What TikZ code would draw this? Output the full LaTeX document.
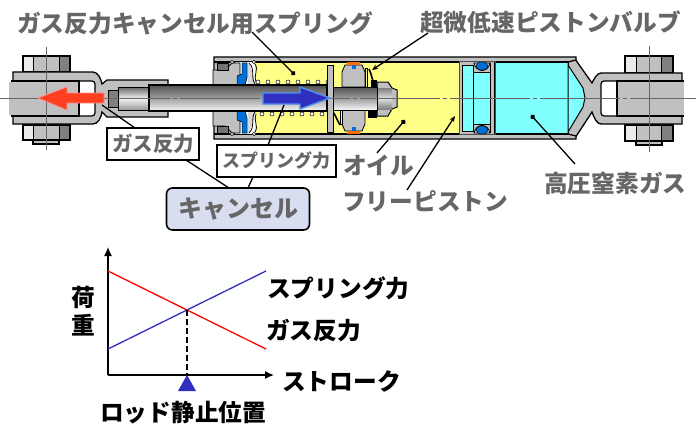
\documentclass[tikz,border=0pt]{standalone}
\usepackage{fontspec}
\setmainfont{Noto Sans CJK JP}
\usetikzlibrary{arrows.meta}
\definecolor{lbl}{HTML}{666666}
\definecolor{metal}{HTML}{C0C0C0}
\definecolor{oilc}{HTML}{FFFF88}
\definecolor{gasc}{HTML}{80FFFF}
\definecolor{sealb}{HTML}{0070D8}
\definecolor{bluear}{HTML}{3030C0}
\definecolor{bluerim}{HTML}{5090F0}
\definecolor{redar}{HTML}{FF4020}
\definecolor{cancelc}{HTML}{D8DEF0}
\tikzset{
 part/.style={draw=black,line width=1.3pt,fill=metal},
 thin part/.style={draw=black,line width=.8pt,fill=metal},
 lab/.style={inner sep=0pt,anchor=west,text=lbl,font=\fontsize{23.7}{24}\selectfont\bfseries},
 blk/.style={inner sep=0pt,anchor=west,text=black,font=\fontsize{23.7}{24}\selectfont\bfseries},
 tag/.style={draw=black,line width=1.4pt,fill=white,text=lbl,inner sep=0pt,font=\bfseries},
 lead/.style={draw=black,line width=1.3pt},
 dotend/.style={lead,{Circle[length=5pt]}-},
 tipend/.style={lead,{Stealth[length=6pt,width=5pt]}-},
 rodshade/.style={top color=black!68,bottom color=black!3,middle color=black!38},
 coil/.style={draw=black,line width=.5pt,fill=white},
 ring/.style={draw=black,line width=.5pt,fill=white},
}
\newcommand{\halfguide}{%
 \fill[white] (235,62) rectangle (255,85);
 \path[thin part] (213,70)--(225,70)--(232,63)--(240,63)--(240,85)--(213,85)--cycle;
 \fill[black!55,draw=black,line width=.5pt] (217,63) rectangle (228,70);
 \fill[sealb,draw=black,line width=.5pt] (242,63)--(247,63)--(247,78)--(245,85)--(237,85)--(237,76)--(242,74)--cycle;
 \fill[metal!60] (248,63) .. controls (254,70) and (251,76) .. (255,84)--(248,84)--cycle;
 \draw[line width=.8pt] (249,63) .. controls (256,70) and (250,76) .. (255,84);
 \fill[oilc] (255,62.7) rectangle (262,80);
 \draw[black,line width=.8pt] (255,64) .. controls (259,70) and (253,76) .. (256,82);
 \fill[ring] (232,62) circle (1.8);
 \fill[ring] (254,62) circle (1.8);
}
\begin{document}
\begin{tikzpicture}[x=1pt,y=-1pt]
\useasboundingbox (0,0) rectangle (696,436);
% ---- left clevis
\fill[metal,draw=black,line width=1.2pt] (23,56) rectangle (70,72);
\fill[black!8] (24,57) rectangle (33,71);
\fill[black!50] (59,57) rectangle (69,71);
\draw[line width=.6pt] (33,56)--(33,72) (59,56)--(59,72);
\fill[metal,draw=black,line width=1.2pt] (33,125) rectangle (59,144);
\fill[metal,draw=black,line width=1.2pt] (23,125) rectangle (70,140);
\fill[black!8] (24,126) rectangle (33,139);
\fill[black!50] (59,126) rectangle (69,139);
\draw[line width=.6pt] (33,125)--(33,140) (59,125)--(59,140);
\path[part] (13,72)--(93,72) .. controls (98,72) and (101,79) .. (102,84)--(107,80)--(168,80)--(168,117)--(107,117)--(102,112) .. controls (101,118) and (98,124) .. (93,124)--(13,124)--cycle;
\fill[white,draw=black,line width=1.2pt,rounded corners=3pt] (72,81) rectangle (95,116);
\path[draw=black,line width=1.2pt,fill=metal] (11,81)--(79,81)--(79,116)--(11,116);
\fill[metal] (9,82) rectangle (12,115);
\path[thin part,fill=black!50] (108,90) rectangle (118,107);
\path[draw=black,line width=.9pt,top color=black!60,bottom color=black!40,middle color=black!5] (118,87) rectangle (148,110);
% ---- right clevis
\fill[metal,draw=black,line width=1.2pt] (625,56) rectangle (673,73);
\fill[black!8] (626,57) rectangle (636,72);
\fill[black!50] (661,57) rectangle (672,72);
\draw[line width=.6pt] (636,56)--(636,73) (661,56)--(661,73);
\fill[metal,draw=black,line width=1.2pt] (636,125) rectangle (662,145);
\fill[metal,draw=black,line width=1.2pt] (625,125) rectangle (673,141);
\fill[black!8] (626,126) rectangle (636,140);
\fill[black!50] (661,126) rectangle (672,140);
\draw[line width=.6pt] (636,125)--(636,141) (661,125)--(661,141);
\path[part] (682,73)--(601,73) .. controls (597,73) and (594,79) .. (592,83)--(575,59)--(568,61)--(568,135)--(575,138)--(592,112) .. controls (594,118) and (597,124) .. (601,124)--(682,124)--cycle;
\fill[white,draw=black,line width=1.2pt,rounded corners=3pt] (601,81) rectangle (625,116);
\path[draw=black,line width=1.2pt,fill=metal] (684,81)--(617,81)--(617,116)--(684,116);
% ---- cylinder
\fill[metal,draw=black,line width=1.3pt] (214,57)--(576,57)--(576,60)--(568,62)--(568,134)--(576,136)--(576,139)--(214,139)--cycle;
\fill[oilc] (240,62) rectangle (459,134);
\fill[gasc] (494,62) rectangle (568,134);
\fill[gasc] (568,65)--(583,88)--(585,98)--(583,107)--(568,132)--cycle;
\draw[black,line width=1.2pt] (214,62)--(568,62) (214,134)--(568,134);
\draw[black,line width=1pt] (568,62)--(568,134) (568,65)--(583,88)--(585,98)--(583,107)--(568,132);
% free piston
\path[draw=black!70,line width=1pt,fill=metal] (459,62) rectangle (495,134);
\fill[gasc,draw=black,line width=.8pt] (462,65) rectangle (473,131);
\fill[gasc,draw=black,line width=.8pt] (473,72) rectangle (490,124);
\draw[line width=1pt] (490,63)--(490,133) (494,62)--(494,134);
\fill[metal,draw=black,line width=.8pt] (474,63) .. controls (476,73) and (488,73) .. (490,63)--cycle;
\fill[metal,draw=black,line width=.8pt] (474,133) .. controls (476,123) and (488,123) .. (490,133)--cycle;
\fill[sealb,draw=black,line width=.4pt] (482,66) ellipse (6 and 4);
\fill[sealb,draw=black,line width=.4pt] (482,130) ellipse (6 and 4);
% rod guide
\halfguide
\begin{scope}[shift={(0,196)},yscale=-1]\halfguide\end{scope}
% spring coils
\foreach \x in {258,268,...,328} \fill[coil] (\x,82) circle (2);
\foreach \x in {262,272,...,322} \fill[coil] (\x,114) circle (2);
% piston, upper half
\path[thin part] (342,72)--(345,65)--(362,65)--(365,72)--(365,87)--(342,87)--cycle;
\fill[oilc,draw=black,line width=.5pt] (365,68) rectangle (367,87);
\draw[black,line width=1.6pt] (369,69) .. controls (372,75) and (372,80) .. (375,87);
\fill[black] (371,80) rectangle (377,87);
\fill[orange!85!red] (347,62.5) rectangle (360,65);
\fill[sealb] (352,65) rectangle (356,69.5);
% piston, lower half
\path[thin part] (342,109)--(365,109)--(365,124)--(362,131)--(345,131)--(342,124)--cycle;
\fill[oilc,draw=black,line width=.5pt] (340,109) rectangle (342,124);
\fill[black] (368,109) rectangle (377,118);
\draw[black,line width=1.6pt] (333,112) .. controls (336,116) and (337,120) .. (340,125);
\fill[orange!85!red] (347,131) rectangle (360,133.5);
\fill[sealb] (352,126.5) rectangle (356,131);
% rod and nut
\path[draw=black,line width=1.2pt,rodshade] (149,85) rectangle (327,111);
\path[draw=black,line width=1pt,fill=metal] (377,82)--(388,82)--(392,88)--(397,90)--(397,107)--(392,109)--(388,116)--(377,116)--cycle;
\path[top color=black!50,bottom color=black!50,middle color=black!12] (378,88) rectangle (392,109);
\path[draw=black,line width=1pt,rodshade] (327,87) rectangle (377,110);
\path[thin part] (327,65) rectangle (333,132);
% center lines
\draw[black!60,line width=.5pt,dash pattern=on 80pt off 3pt on 4pt off 3pt] (0,98)--(696,98);
\draw[black!60,line width=.5pt] (46,47)--(46,150) (649,46)--(649,152);
% force arrows
\path[fill=redar,draw=red!45,line width=.7pt] (104,93)--(67,93)--(67,87)--(38,98)--(67,110)--(67,103)--(104,103)--cycle;
\path[fill=bluear,draw=bluerim,line width=1.4pt] (263,93)--(300,93)--(300,87)--(330,98)--(300,109)--(300,104)--(263,104)--cycle;
% labels
\node[lab] (spr) at (17,23) {ガス反力キャンセル用スプリング};
\node[lab] (valve) at (420,22) {超微低速ピストンバルブ};
\node[lab] (oil) at (343,165) {オイル};
\node[lab] (free) at (342,201) {フリーピストン};
\node[lab] (gas) at (544,183) {高圧窒素ガス};
\node[tag,minimum width=92pt,minimum height=32pt,font=\fontsize{20.5}{21}\selectfont\bfseries] (tgas) at (153,144) {ガス反力};
\node[tag,minimum width=119pt,minimum height=32pt,font=\fontsize{18}{19}\selectfont\bfseries] (tspr) at (276.5,161) {スプリング力};
\node[tag,line width=1.6pt,fill=cancelc,rounded corners=6pt,minimum width=143pt,minimum height=42pt,font=\fontsize{24}{25}\selectfont\bfseries] (cancel) at (238,209) {キャンセル};
% leader ends
\coordinate (a1) at (295,75); \coordinate (a1s) at (252,32);
\coordinate (a2) at (372,70); \coordinate (a2s) at (428,33);
\coordinate (a3) at (405,120); \coordinate (a3s) at (377,153);
\coordinate (a4) at (455,116); \coordinate (a4s) at (407,190);
\coordinate (a5) at (531,115); \coordinate (a5s) at (575,164);
\coordinate (a6) at (102,105); \coordinate (a6s) at (135,128);
\coordinate (a7) at (186,160); \coordinate (a7e) at (229,188);
\coordinate (a8) at (284,105); \coordinate (a8s) at (268,145);
\coordinate (a9) at (253,177); \coordinate (a9e) at (248,188);
\draw[dotend] (a1)--(a1s);
\draw[tipend] (a2)--(a2s);
\draw[dotend] (a3)--(a3s);
\draw[tipend] (a4)--(a4s);
\draw[dotend] (a5)--(a5s);
\draw[lead] (a6)--(a6s) (a7)--(a7e) (a8)--(a8s) (a9)--(a9e);
% graph
\coordinate (o) at (108,375);
\coordinate (yt) at (108,247);
\coordinate (xt) at (274,375);
\coordinate (r1) at (108,271); \coordinate (r2) at (266,349);
\coordinate (b1) at (108,349); \coordinate (b2) at (266,271);
\coordinate (cr) at (187,310);
\coordinate (crb) at (187,375);
\draw[line width=1.3pt,-{Latex[length=9pt,width=8pt]}] (o)--(yt);
\draw[line width=1.3pt,-{Latex[length=9pt,width=8pt]}] (o)--(xt);
\draw[red,line width=1.3pt] (r1)--(r2);
\draw[bluear,line width=1.3pt] (b1)--(b2);
\draw[black,line width=1.2pt,dash pattern=on 6pt off 3pt] (cr)--(crb);
\fill[bluear] (187,375)--(178,391)--(196,391)--cycle;
\node[blk,anchor=center] (n1) at (83,297) {荷};
\node[blk,anchor=center] (n2) at (83,325) {重};
\node[blk] (g1) at (267,288) {スプリング力};
\node[blk] (g2) at (266,331) {ガス反力};
\node[blk] (g3) at (282,381) {ストローク};
\node[blk] (g4) at (100,413) {ロッド静止位置};
\end{tikzpicture}
\end{document}
